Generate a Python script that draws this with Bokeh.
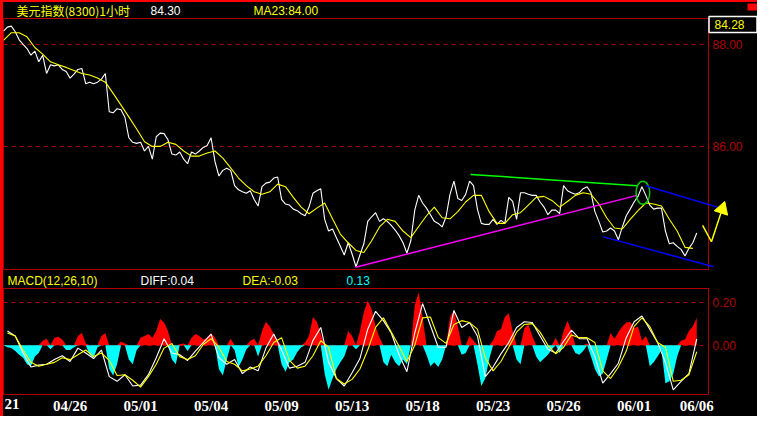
from bokeh.plotting import figure
from bokeh.layouts import column
from bokeh.models import ColumnDataSource, FixedTicker, NumeralTickFormatter, Range1d
from bokeh.core.properties import value
from bokeh.embed import file_html
from bokeh.resources import INLINE

# ---------------- data (hourly bars) ----------------
price_close = [
    88.26, 88.34, 88.36, 88.25, 88.09, 88.00, 87.92, 87.79, 87.87, 87.66,
    87.79, 87.43, 87.60, 87.58, 87.60, 87.51, 87.47, 87.34, 87.42, 87.51,
    87.53, 87.23, 87.26, 87.23, 87.26, 87.32, 87.43, 86.68, 86.66, 86.74,
    86.72, 86.57, 86.17, 86.08, 86.06, 86.08, 85.91, 86.00, 85.75, 86.19,
    86.26, 86.25, 86.13, 85.85, 85.83, 85.89, 85.75, 85.66, 85.89, 85.85,
    85.91, 85.98, 86.02, 86.17, 85.70, 85.42, 85.53, 85.57, 85.53, 85.23,
    85.15, 85.11, 85.08, 85.13, 84.96, 84.83, 85.21, 85.28, 85.30, 85.38,
    85.40, 84.96, 84.87, 84.85, 84.77, 84.74, 84.68, 84.64, 84.81, 85.08,
    85.13, 85.17, 84.57, 84.34, 84.38, 84.21, 84.04, 83.87, 84.11, 83.89,
    83.64, 83.87, 84.09, 84.53, 84.62, 84.70, 84.53, 84.58, 84.53, 84.45,
    84.36, 84.25, 84.11, 83.91, 84.15, 84.75, 85.04, 84.89, 84.79, 84.66,
    84.53, 84.49, 84.42, 84.62, 85.06, 85.32, 84.98, 84.94, 85.06, 85.32,
    85.23, 84.77, 84.49, 84.47, 84.47, 84.57, 84.47, 84.55, 84.49, 85.00,
    84.92, 84.57, 85.09, 85.09, 85.06, 85.04, 85.04, 84.91, 84.81, 84.66,
    84.75, 84.75, 84.68, 85.23, 85.13, 85.09, 85.06, 85.09, 85.17, 85.21,
    85.09, 84.72, 84.53, 84.32, 84.34, 84.40, 84.34, 84.17, 84.42, 84.64,
    84.77, 84.91, 85.02, 85.21, 85.04, 84.85, 84.77, 84.79, 84.79, 84.34,
    84.09, 84.11, 84.04, 83.98, 83.85, 84.00, 84.11, 84.30,
]

ma23_bar = list(range(0, 178, 2))
ma23 = [
    88.08, 88.23, 88.23, 88.15, 87.94, 87.81, 87.66, 87.60, 87.55, 87.49,
    87.43, 87.40, 87.34, 87.26, 87.04, 86.81, 86.58, 86.34, 86.09, 86.00,
    86.00, 86.08, 86.04, 85.91, 85.81, 85.81, 85.87, 85.91, 85.77, 85.58,
    85.38, 85.23, 85.11, 85.06, 85.11, 85.26, 85.21, 85.00, 84.81, 84.68,
    84.79, 84.89, 84.58, 84.28, 84.11, 83.96, 83.92, 84.15, 84.42, 84.57,
    84.53, 84.34, 84.21, 84.43, 84.64, 84.81, 84.60, 84.58, 84.72, 84.91,
    85.04, 85.04, 84.72, 84.49, 84.49, 84.66, 84.70, 84.85, 85.00, 85.02,
    84.94, 84.81, 84.92, 85.04, 85.09, 85.06, 84.87, 84.60, 84.40, 84.38,
    84.57, 84.74, 84.89, 84.87, 84.83, 84.57, 84.34, 84.02, 84.00,
]

macd_bar = list(range(1, 178, 2))
macd_diff = [
    0.067, 0.044, -0.036, -0.102, -0.093, -0.089, -0.067, -0.049, -0.076, -0.013,
    -0.036, -0.062, -0.022, -0.147, -0.169, -0.138, -0.191, -0.187, -0.138, -0.058,
    0.031, -0.036, -0.044, -0.071, -0.027, 0.013, 0.053, -0.058, -0.089, -0.067,
    -0.133, -0.102, -0.120, -0.013, 0.053, -0.022, -0.107, -0.098, -0.080, 0.022,
    0.084, -0.080, -0.156, -0.191, -0.129, -0.062, 0.076, 0.160, 0.116, 0.058,
    -0.044, -0.124, 0.058, 0.196, 0.093, -0.009, -0.009, 0.164, 0.084, 0.107,
    0.044, -0.147, -0.102, -0.040, 0.013, 0.084, 0.111, 0.107, 0.044, -0.018,
    -0.036, 0.018, 0.071, 0.031, 0.031, -0.053, -0.178, -0.133, -0.084, 0.036,
    0.111, 0.138, 0.076, 0.013, -0.080, -0.209, -0.169, -0.133, 0.030,
]
macd_dea = [
    0.058, 0.044, -0.022, -0.080, -0.098, -0.089, -0.080, -0.058, -0.067, -0.044,
    -0.022, -0.053, -0.036, -0.071, -0.142, -0.138, -0.164, -0.196, -0.147, -0.089,
    -0.013, 0.009, -0.053, -0.067, -0.049, 0.004, 0.031, -0.009, -0.076, -0.089,
    -0.120, -0.111, -0.098, -0.049, 0.013, 0.036, -0.071, -0.107, -0.098, -0.049,
    0.022, -0.009, -0.156, -0.182, -0.160, -0.111, -0.022, 0.084, 0.129, 0.062,
    -0.004, -0.076, 0.000, 0.129, 0.133, 0.036, 0.009, 0.098, 0.116, 0.107,
    0.076, -0.058, -0.120, -0.076, -0.009, 0.062, 0.098, 0.102, 0.062, 0.000,
    -0.040, -0.009, 0.049, 0.036, 0.036, 0.013, -0.120, -0.156, -0.102, -0.027,
    0.089, 0.129, 0.089, 0.013, -0.009, -0.169, -0.164, -0.138, -0.030,
]
macd_hist = [
    0.000, -0.009, -0.013, -0.027, -0.044, -0.058, -0.089, -0.098, -0.053, -0.036,
    0.022, 0.031, -0.018, 0.036, 0.040, 0.027, -0.022, -0.022, -0.009, 0.044,
    0.058, 0.009, -0.044, -0.058, -0.009, 0.044, 0.058, -0.111, -0.142, -0.089,
    0.018, 0.009, -0.067, -0.089, -0.022, 0.036, 0.044, 0.053, 0.036, 0.067,
    0.124, 0.107, 0.067, -0.067, -0.089, 0.005, 0.009, -0.027, 0.036, 0.053,
    0.044, 0.027, 0.036, 0.058, 0.036, -0.111, -0.142, -0.067, 0.031, -0.022,
    -0.102, -0.067, -0.018, 0.022, 0.031, -0.053, 0.067, 0.111, 0.089, 0.053,
    0.022, -0.089, -0.124, -0.080, -0.067, -0.031, -0.009, 0.013, 0.044, 0.133,
    0.111, 0.053, -0.133, -0.209, -0.156, -0.111, -0.080, -0.053, 0.067, 0.044,
    -0.018, 0.067, 0.156, 0.209, 0.169, 0.089, 0.036, -0.080, -0.098, -0.044,
    -0.080, -0.098, -0.067, -0.089, 0.000, 0.187, 0.249, 0.133, -0.044, -0.098,
    -0.080, -0.102, -0.067, 0.000, 0.133, 0.164, 0.089, -0.044, -0.036, 0.044,
    0.022, -0.089, -0.191, -0.156, -0.067, 0.022, 0.067, 0.076, 0.133, 0.151,
    0.067, -0.067, -0.089, 0.080, 0.098, 0.044, -0.053, -0.080, -0.062, -0.044,
    -0.018, 0.036, -0.036, 0.067, 0.116, 0.067, -0.036, -0.044, -0.027, 0.009,
    -0.053, -0.111, -0.147, -0.133, -0.067, 0.058, 0.031, 0.062, 0.089, 0.107,
    0.111, 0.080, 0.089, 0.022, 0.044, -0.098, -0.080, -0.053, -0.022, -0.178,
    -0.169, -0.133, -0.053, 0.022, 0.027, 0.067, 0.089, 0.130,
]

date_ticks = [17, 35, 53, 71, 89, 107, 125, 143, 161, 177]
date_labels = ["04/26", "05/01", "05/04", "05/09", "05/13",
               "05/18", "05/23", "05/26", "06/01", "06/06"]
first_date = "21"   # only the day of the leftmost date shows at the edge

price_ticks = [86, 88]
macd_ticks = [0.0, 0.2]

# drawn trend lines: (bar index, price)
support_bar, support_price = [89.9, 161.75], [83.63, 85.04]        # magenta
resist_bar, resist_price = [119.25, 161.75], [85.45, 85.23]        # green
chan_top_bar, chan_top_price = [164.0, 184.0], [85.23, 84.77]      # blue
chan_bot_bar, chan_bot_price = [153.0, 181.25], [84.23, 83.64]     # blue
arrow_bar, arrow_price = [178.5, 180.75, 183.5], [84.45, 84.13, 84.77]
mark_bar, mark_price, mark_w, mark_h = [163.25], [85.09], 3.5, 0.45

# header texts
title_text = "美元指数(8300)1小时"
last_text = "84.30"
ma_text = "MA23:84.00"
cursor_text = "84.28"
macd_title = "MACD(12,26,10)"
diff_text = "DIFF:0.04"
dea_text = "DEA:-0.03"
hist_text = "0.13"

# ---------------- styling / layout constants ----------------
BG = "black"
DRED = "#b00000"
YEL = "#ffff00"
CYAN = "#00ffff"
FONT = "Liberation Sans"
XFONT = "Liberation Sans Narrow"
FW = 754
RIGHT = 49
F1H, F1TOP = 268, 16
F2H, F2TOP, F2BOT = 146, 18, 21
frame1_h = F1H - F1TOP
frame_w = FW - RIGHT

X0, X1 = 0, 180
P0, P1 = 83.566, 88.509
M0, M1 = -0.231, 0.267

bars = list(range(len(price_close)))
x_range = Range1d(X0, X1)
bar_per_px = (X1 - X0) / frame_w
price_per_px = (P1 - P0) / frame1_h


def style_fig(p, ticks):
    p.background_fill_color = BG
    p.border_fill_color = BG
    p.outline_line_color = DRED
    p.outline_line_width = 1
    ax = p.yaxis[0]
    ax.ticker = FixedTicker(ticks=ticks)
    ax.formatter = NumeralTickFormatter(format="0.00")
    ax.axis_line_color = DRED
    ax.major_tick_line_color = None
    ax.minor_tick_line_color = None
    ax.major_tick_out = 0
    ax.major_tick_in = 0
    ax.major_label_text_color = DRED
    ax.major_label_text_font = FONT
    ax.major_label_text_font_size = "12px"
    ax.major_label_standoff = 4
    p.ygrid.ticker = FixedTicker(ticks=ticks)
    p.ygrid.grid_line_color = DRED
    p.ygrid.grid_line_dash = "4 4"
    p.ygrid.grid_line_width = 1
    p.xgrid.grid_line_color = None


def free_text(p, x, y, text, color, dx, dy, font=FONT, size="12px",
              align="left", baseline="middle", style="normal"):
    p.text(x=[x], y=[y], text=[text], x_offset=dx, y_offset=dy,
           text_color=color, text_font=value(font), text_font_size=value(size),
           text_font_style=style, text_align=align, text_baseline=baseline,
           level="overlay")


# ---------------- price panel ----------------
p1 = figure(width=FW, height=F1H, x_range=x_range, y_range=Range1d(P0, P1),
            output_backend="svg", toolbar_location=None, x_axis_location=None,
            y_axis_location="right", min_border_left=0, min_border_right=RIGHT,
            min_border_top=F1TOP, min_border_bottom=0)
style_fig(p1, price_ticks)

p1.line(bars, price_close, line_color="white", line_width=1.1)
p1.line(ma23_bar, ma23, line_color=YEL, line_width=1.1)
p1.line(support_bar, support_price, line_color="#ff00ff", line_width=1.5)
p1.line(resist_bar, resist_price, line_color="#00ff00", line_width=1.5)
p1.line(chan_top_bar, chan_top_price, line_color="#0000ff", line_width=1.5, level="overlay")
p1.line(chan_bot_bar, chan_bot_price, line_color="#0000ff", line_width=1.5, level="overlay")
p1.ellipse(x=mark_bar, y=mark_price, width=mark_w, height=mark_h,
           fill_color=None, line_color="#00cc00", line_width=1.5)
p1.line(arrow_bar, arrow_price, line_color=YEL, line_width=1.5, level="overlay")
p1.scatter(x=[arrow_bar[-1]], y=[arrow_price[-1]], marker="triangle", size=14,
           angle=-0.32, fill_color=YEL, line_color=YEL, level="overlay")

# header row
free_text(p1, X0, P1, title_text, YEL, 13, -8, font="Noto Sans CJK SC")
free_text(p1, X0, P1, last_text, "white", 147, -8)
free_text(p1, X0, P1, ma_text, YEL, 250, -8)
# cursor value box on the price scale
p1.rect(x=[X1 + 24.5 * bar_per_px], y=[P1 - 6 * price_per_px], width=48, height=16,
        width_units="screen", height_units="screen", fill_color=BG,
        line_color="white", line_width=1.5, level="overlay")
free_text(p1, X1, P1, cursor_text, YEL, 6, 6)
# small window mark at the top right
p1.rect(x=[X1 + 44 * bar_per_px], y=[P1 + 11.5 * price_per_px], width=10, height=7,
        width_units="screen", height_units="screen", fill_color="#ff0000",
        line_color=None, level="overlay")

# ---------------- MACD panel ----------------
p2 = figure(width=FW, height=F2H, x_range=x_range, y_range=Range1d(M0, M1),
            output_backend="svg", toolbar_location=None,
            y_axis_location="right", min_border_left=0, min_border_right=RIGHT,
            min_border_top=F2TOP, min_border_bottom=F2BOT)
style_fig(p2, macd_ticks)

hist_src = ColumnDataSource(dict(
    x=bars,
    pos=[v if v > 0 else 0 for v in macd_hist],
    neg=[v if v < 0 else 0 for v in macd_hist],
))
p2.varea(x="x", y1=0, y2="pos", fill_color="#ff0000", source=hist_src)
p2.varea(x="x", y1=0, y2="neg", fill_color=CYAN, source=hist_src)
p2.line(macd_bar, macd_diff, line_color="white", line_width=1.1)
p2.line(macd_bar, macd_dea, line_color=YEL, line_width=1.1)

xa = p2.xaxis[0]
xa.ticker = FixedTicker(ticks=date_ticks)
xa.major_label_overrides = {t: s for t, s in zip(date_ticks, date_labels)}
xa.axis_line_color = None
xa.major_tick_line_color = None
xa.minor_tick_line_color = None
xa.major_tick_out = 0
xa.major_tick_in = 0
xa.major_label_text_color = "white"
xa.major_label_text_font = XFONT
xa.major_label_text_font_style = "bold"
xa.major_label_text_font_size = "15px"
xa.major_label_standoff = 3

free_text(p2, X0, M0, first_date, "white", 1, 4, font=XFONT, size="15px",
          align="left", baseline="top", style="bold")

free_text(p2, X0, M1, macd_title, YEL, 4, -8)
free_text(p2, X0, M1, diff_text, "white", 137, -8)
free_text(p2, X0, M1, dea_text, YEL, 239, -8)
free_text(p2, X0, M1, hist_text, CYAN, 343, -8)

layout = column(p1, p2, styles={"border-left": "3px solid #ff0000",
                                "border-top": "2px solid #ff0000",
                                "background-color": "black"})

open("out.html", "w").write(file_html(layout, INLINE))
